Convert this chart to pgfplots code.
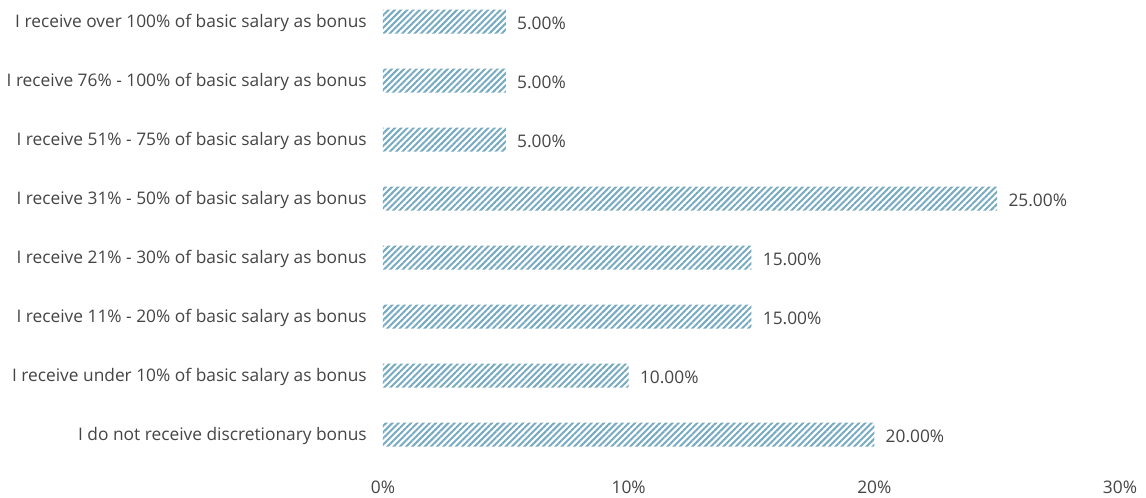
\documentclass[border=0pt]{standalone}
\usepackage{pgfplots}
\pgfplotsset{compat=1.18}
\usepackage{fontspec}
\setmainfont{Open Sans}
\usetikzlibrary{patterns.meta}
\definecolor{barc}{RGB}{118,170,193}
\definecolor{txt}{RGB}{68,68,68}
\begin{document}
\begin{tikzpicture}[x=0.75pt,y=0.75pt]
\begin{axis}[
  name=ax,
  scale only axis,
  width=552.75pt, height=352.6pt,
  xbar, bar width=18pt,
  xmin=0, xmax=30, ymin=-0.6, ymax=7.37,
  axis line style={draw=none},
  major tick length=0pt,
  xtick={0,10,20,30},
  xticklabels={0\%,10\%,20\%,30\%},
  ytick={0,...,7},
  yticklabels={I do not receive discretionary bonus,
    I receive under 10\% of basic salary as bonus,
    I receive 11\% - 20\% of basic salary as bonus,
    I receive 21\% - 30\% of basic salary as bonus,
    I receive 31\% - 50\% of basic salary as bonus,
    I receive 51\% - 75\% of basic salary as bonus,
    I receive 76\% - 100\% of basic salary as bonus,
    I receive over 100\% of basic salary as bonus},
  yticklabel style={anchor=east, inner sep=0pt, xshift=-12pt, yshift=-1pt},
  xticklabel style={anchor=north, inner sep=0pt, yshift=-8pt},
  ticklabel style={font=\fontsize{13pt}{15pt}\selectfont, text=txt},
  /pgf/number format/assume math mode=true,
  nodes near coords={\pgfmathprintnumber[fixed,fixed zerofill,precision=2,assume math mode=true]{\pgfplotspointmeta}\%},
  nodes near coords style={font=\fontsize{13pt}{15pt}\selectfont, text=txt, anchor=west, xshift=5pt, yshift=-1pt},
  point meta=explicit,
]
\addplot[draw=none, pattern={Lines[angle=45,distance=3.3pt,line width=1.5pt]}, pattern color=barc]
  coordinates {(20,0)[20] (10,1)[10] (15,2)[15] (15,3)[15] (25,4)[25] (5,5)[5] (5,6)[5] (5,7)[5]};
\end{axis}
\pgfresetboundingbox
\path[use as bounding box] ([shift={(-383,-28)}]ax.south west) rectangle ([shift={(763,470)}]ax.south west);
\end{tikzpicture}
\end{document}
